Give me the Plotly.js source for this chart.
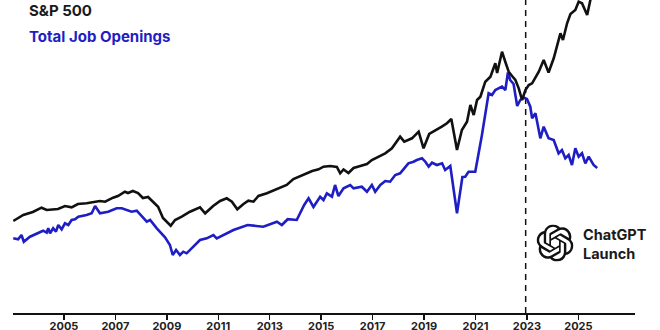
<!DOCTYPE html>
<html>
<head>
<meta charset="utf-8">
<script src="https://cdn.plot.ly/plotly-3.0.1.min.js"></script>
<style>html,body{margin:0;padding:0;background:#fff;}#chart{width:660px;height:330px;}</style>
</head>
<body>
<div id="chart"></div>
<script>
// S&P 500 (normalised index, no visible scale)
const spxYears = [2003.03,2003.29,2003.42,2003.79,2004.13,2004.33,2004.77,2005.04,2005.30,2005.54,
2005.88,2006.40,2006.60,2006.91,2007.10,2007.37,2007.49,2007.68,2007.88,2008.07,
2008.27,2008.46,2008.66,2008.85,2009.00,2009.15,2009.32,2009.58,2009.90,2010.16,
2010.29,2010.49,2010.80,2011.07,2011.33,2011.53,2011.74,2011.98,2012.17,2012.37,
2012.56,2012.89,2013.14,2013.47,2013.66,2013.92,2014.18,2014.42,2014.65,2014.90,
2015.09,2015.35,2015.61,2015.74,2015.87,2016.06,2016.26,2016.52,2016.78,2016.97,
2017.23,2017.49,2017.75,2018.07,2018.23,2018.53,2018.79,2018.98,2019.20,2019.50,
2019.69,2019.89,2020.06,2020.28,2020.47,2020.67,2020.80,2020.93,2021.06,2021.19,
2021.38,2021.58,2021.77,2021.84,2021.96,2022.03,2022.16,2022.29,2022.42,2022.55,
2022.68,2022.81,2022.94,2023.07,2023.20,2023.33,2023.46,2023.65,2023.84,2024.04,
2024.30,2024.40,2024.56,2024.69,2024.88,2025.01,2025.14,2025.34,2025.47,2025.54];
const spxValues = [92,95.7,98,101,105.3,103,104,107,105.7,109,
109.7,112,111.3,115.3,117,121.3,120,122,120,115,
116,111.3,106.3,95,91.3,87.3,93,96.3,101.3,104.7,
105.7,99.7,107,112,114.7,111.3,103.7,109,112.3,111.3,
117,119.7,122.5,126.3,128,134,137,139,142,143.7,
146.3,147,146,139.7,143.5,140,145,147,149,153,
156.3,159.7,164.7,176.3,171.3,174.7,181.3,164.7,179,183,
186.3,189.7,194,163,183,191.3,208,198,213,216.3,
231.3,236.3,249.7,240,254.7,261.3,251,241.3,237,233,
224.7,213,223,228,229.7,236,241.3,253,240.5,254.7,
279.7,273,289.7,299,303,311.3,309.7,298,313,322];

// Total Job Openings (normalised, no visible scale)
const jobsYears = [2003.03,2003.22,2003.35,2003.44,2003.68,2003.94,2004.19,2004.33,2004.39,2004.46,
2004.58,2004.69,2004.78,2004.91,2005.04,2005.17,2005.30,2005.43,2005.56,2005.88,
2006.08,2006.21,2006.40,2006.72,2007.05,2007.25,2007.63,2007.83,2008.22,2008.35,
2008.61,2008.93,2009.12,2009.23,2009.36,2009.51,2009.64,2009.77,2010.03,2010.29,
2010.55,2010.81,2010.94,2011.33,2011.59,2012.14,2012.75,2013.28,2013.47,2013.70,
2014.05,2014.34,2014.51,2014.70,2014.96,2015.09,2015.22,2015.42,2015.54,2015.67,
2015.87,2016.13,2016.26,2016.58,2016.78,2016.97,2017.10,2017.30,2017.49,2017.68,
2017.88,2018.07,2018.39,2018.59,2018.72,2018.92,2019.05,2019.18,2019.31,2019.50,
2019.70,2019.82,2020.02,2020.28,2020.49,2020.60,2020.73,2020.99,2021.12,2021.25,
2021.51,2021.64,2021.77,2021.90,2022.03,2022.16,2022.26,2022.35,2022.48,2022.62,
2022.74,2022.87,2023.00,2023.13,2023.20,2023.33,2023.52,2023.65,2023.84,2024.04,
2024.23,2024.36,2024.49,2024.62,2024.75,2024.88,2025.01,2025.14,2025.27,2025.40,
2025.59,2025.73];
const jobsValues = [74.7,73.7,78,71.3,76.3,79.7,82.3,80.3,84.7,79.7,
84.7,81.3,88,83.7,89.7,88,93,93.7,96.3,98,
99.7,107,99.7,101.3,104.7,104.7,101.3,102.3,91.3,93,
84.7,75.7,68,58,63,58,61.3,59.7,66.3,73,
74.7,78,74.7,79.7,83,88,86.3,91.3,88,93.8,
93,108,114.7,106,116.3,113,119.7,116.3,128,117,
124.7,128,124.7,126.3,121.3,128,121.3,128,132,131.3,
138,139.7,149.7,151.3,153,154.7,151.3,146.3,150.3,148,
149.7,143,147,99.7,136,136.3,141.3,141.3,159.7,178,
219.7,218,223,224.7,226.3,223,240.5,233,229,207,
213,215.5,214,206.3,194.7,199.7,174.7,186.3,174.7,173,
159.7,163,154.7,158,148,164.7,156.3,159.7,149.7,156.3,
148,145];

const tickYears = [2005,2007,2009,2011,2013,2015,2017,2019,2021,2023,2025];
const launchYear = 2022.95;
const seriesNames = ["S&P 500", "Total Job Openings"];
const eventLabel = ["ChatGPT", "Launch"];

const BLACK = "#111111";
const BLUE = "#1e1ec4";
const FONT = "Inter, 'Liberation Sans', sans-serif";

const logoSvg = '<svg xmlns="http://www.w3.org/2000/svg" viewBox="0 0 24 24"><path fill="#111" d="M22.2819 9.8211a5.9847 5.9847 0 0 0-.5157-4.9108 6.0462 6.0462 0 0 0-6.5098-2.9A6.0651 6.0651 0 0 0 4.9807 4.1818a5.9847 5.9847 0 0 0-3.9977 2.9 6.0462 6.0462 0 0 0 .7427 7.0966 5.98 5.98 0 0 0 .511 4.9107 6.051 6.051 0 0 0 6.5146 2.9001A5.9847 5.9847 0 0 0 13.2599 24a6.0557 6.0557 0 0 0 5.7718-4.2058 5.9894 5.9894 0 0 0 3.9977-2.9001 6.0557 6.0557 0 0 0-.7475-7.0729zm-9.022 12.6081a4.4755 4.4755 0 0 1-2.8764-1.0408l.1419-.0804 4.7783-2.7582a.7948.7948 0 0 0 .3927-.6813v-6.7369l2.02 1.1686a.071.071 0 0 1 .038.052v5.5826a4.504 4.504 0 0 1-4.4945 4.4944zm-9.6607-4.1254a4.4708 4.4708 0 0 1-.5346-3.0137l.142.0852 4.783 2.7582a.7712.7712 0 0 0 .7806 0l5.8428-3.3685v2.3324a.0804.0804 0 0 1-.0332.0615L9.74 19.9502a4.4992 4.4992 0 0 1-6.1408-1.6464zM2.3408 7.8956a4.485 4.485 0 0 1 2.3655-1.9728V11.6a.7664.7664 0 0 0 .3879.6765l5.8144 3.3543-2.0201 1.1685a.0757.0757 0 0 1-.071 0l-4.8303-2.7865A4.504 4.504 0 0 1 2.3408 7.872zm16.5963 3.8558L13.1038 8.364 15.1192 7.2a.0757.0757 0 0 1 .071 0l4.8303 2.7913a4.4944 4.4944 0 0 1-.6765 8.1042v-5.6772a.79.79 0 0 0-.407-.667zm2.0107-3.0231l-.142-.0852-4.7735-2.7818a.7759.7759 0 0 0-.7854 0L9.409 9.2297V6.8974a.0662.0662 0 0 1 .0284-.0615l4.8303-2.7866a4.4992 4.4992 0 0 1 6.6802 4.66zM8.3065 12.863l-2.02-1.1638a.0804.0804 0 0 1-.038-.0567V6.0742a4.4992 4.4992 0 0 1 7.3757-3.4537l-.142.0805L8.704 5.459a.7948.7948 0 0 0-.3927.6813zm1.0976-2.3654l2.602-1.4998 2.6069 1.4998v2.9994l-2.5974 1.4997-2.6067-1.4997Z"/></svg>';

const traces = [
  {x: jobsYears, y: jobsValues, type: "scatter", mode: "lines", name: seriesNames[1],
   line: {color: BLUE, width: 2.6}, hoverinfo: "skip"},
  {x: spxYears, y: spxValues, type: "scatter", mode: "lines", name: seriesNames[0],
   line: {color: BLACK, width: 2.6}, hoverinfo: "skip"}
];

const layout = {
  width: 660, height: 330,
  margin: {l: 13, r: 25, t: 0, b: 17},
  paper_bgcolor: "#ffffff", plot_bgcolor: "#ffffff",
  showlegend: false,
  font: {family: FONT},
  xaxis: {
    range: [2003.02, 2027.2], tickmode: "array",
    tickvals: tickYears, ticktext: tickYears.map(y => "<b>" + y + "</b>"),
    showgrid: false, zeroline: false, showline: true,
    linecolor: BLACK, linewidth: 2,
    ticks: "outside", ticklen: 5, tickwidth: 1.5, tickcolor: BLACK,
    ticklabelstandoff: -3,
    tickfont: {family: FONT, size: 11, color: "#222"}, fixedrange: true
  },
  yaxis: {range: [0, 313], visible: false, fixedrange: true},
  shapes: [{
    type: "line", xref: "x", yref: "paper", x0: launchYear, x1: launchYear, y0: 0, y1: 1,
    line: {color: BLACK, width: 1.5, dash: "6px,5px"}, layer: "below"
  }],
  annotations: [
    {xref: "paper", yref: "paper", x: 0.0225, y: 0.968, xanchor: "left", yanchor: "middle",
     text: "<b>" + seriesNames[0] + "</b>", showarrow: false,
     font: {family: FONT, size: 15, color: "#1a1a1a"}},
    {xref: "paper", yref: "paper", x: 0.0225, y: 0.883, xanchor: "left", yanchor: "middle",
     text: "<b>" + seriesNames[1] + "</b>", showarrow: false,
     font: {family: FONT, size: 15, color: BLUE}},
    {xref: "paper", yref: "paper", x: 0.913, y: 0.222, xanchor: "left", yanchor: "middle",
     align: "left", text: "<b>" + eventLabel.join("<br>") + "</b>", showarrow: false,
     font: {family: FONT, size: 14.5, color: "#1a1a1a"}}
  ],
  images: [{
    source: "data:image/svg+xml;charset=utf-8," + encodeURIComponent(logoSvg),
    xref: "paper", yref: "paper", x: 0.8714, y: 0.2236,
    sizex: 0.0595, sizey: 0.1182, xanchor: "center", yanchor: "middle",
    sizing: "contain", layer: "above"
  }]
};

Plotly.newPlot("chart", traces, layout, {displayModeBar: false, staticPlot: true});
</script>
</body>
</html>
